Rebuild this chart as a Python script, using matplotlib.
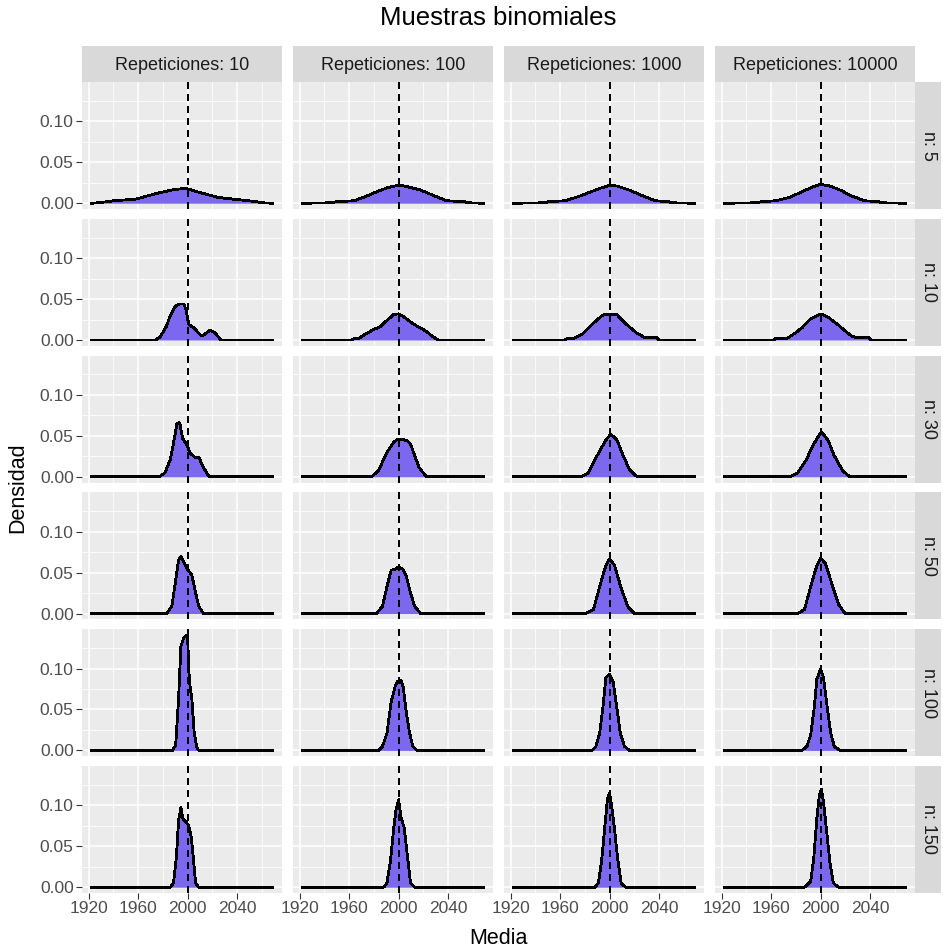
import matplotlib
matplotlib.use("Agg")
import matplotlib.pyplot as plt

plt.rcParams["font.family"] = ["Liberation Sans", "DejaVu Sans"]
plt.rcParams["lines.scale_dashes"] = False

# Facet levels
reps_levels = [10, 100, 1000, 10000]
n_levels = [5, 10, 30, 50, 100, 150]
x_ticks = [1920, 1960, 2000, 2040]
x_minor = [1940, 1980, 2020, 2060]
y_ticks = [0.00, 0.05, 0.10]
y_minor = [0.025, 0.075, 0.125]
y_tick_labels = ["0.00", "0.05", "0.10"]
true_mean = 2000

# Density curves of the sample means, one pair of lists per facet
n5_r10_x = [1922, 1928, 1940, 1958, 1975, 1990, 1999, 2010, 2025, 2043, 2055, 2060, 2069]
n5_r10_y = [0, 0.0005, 0.003, 0.005, 0.012, 0.017, 0.018, 0.013, 0.007, 0.004, 0.002, 0.0005, 0]
n5_r100_x = [1922, 1946, 1950, 1964, 1973, 1984, 1991, 2000, 2005, 2018, 2029, 2039, 2053, 2056, 2069]
n5_r100_y = [0, 0.0005, 0.002, 0.003, 0.008, 0.015, 0.019, 0.022, 0.021, 0.016, 0.009, 0.003, 0.002, 0.0005, 0]
n5_r1000_x = [1922, 1948, 1951, 1964, 1974.6, 1985, 1992, 2000, 2006, 2016, 2027, 2037, 2048, 2050, 2069]
n5_r1000_y = [0, 0.0005, 0.002, 0.003, 0.008, 0.014, 0.018, 0.022, 0.021, 0.016, 0.009, 0.003, 0.002, 0.0005, 0]
n5_r10000_x = [1922, 1949, 1952, 1964, 1974.6, 1985, 1993.7, 2000, 2007.6, 2016, 2025, 2035.5, 2047, 2049, 2069]
n5_r10000_y = [0, 0.0005, 0.002, 0.003, 0.007, 0.014, 0.020, 0.023, 0.021, 0.016, 0.009, 0.003, 0.002, 0.0005, 0]

n10_r10_x = [1922, 1974, 1978, 1983, 1986, 1990, 1993, 1997, 1998.5, 2001, 2005, 2011, 2013, 2018, 2022, 2027, 2069]
n10_r10_y = [0, 0, 0.004, 0.017, 0.030, 0.041, 0.044, 0.044, 0.038, 0.019, 0.015, 0.005, 0.006, 0.012, 0.009, 0, 0]
n10_r100_x = [1922, 1962, 1964.5, 1968, 1973, 1980, 1985, 1990.6, 1996, 2000, 2004.5, 2011.5, 2022, 2027, 2032, 2069]
n10_r100_y = [0, 0, 0.002, 0.002, 0.007, 0.013, 0.016, 0.024, 0.031, 0.032, 0.028, 0.020, 0.011, 0.005, 0, 0]
n10_r1000_x = [1922, 1964, 1966, 1971, 1978, 1985, 1994, 1996, 2006, 2013, 2021.5, 2028.5, 2038, 2040, 2069]
n10_r1000_y = [0, 0, 0.002, 0.002, 0.007, 0.018, 0.030, 0.031, 0.031, 0.020, 0.009, 0.003, 0.003, 0, 0]
n10_r10000_x = [1922, 1962, 1964, 1973, 1980, 1985, 1992, 2000, 2006, 2013, 2020, 2025, 2029, 2039, 2041, 2069]
n10_r10000_y = [0, 0, 0.002, 0.002, 0.009, 0.015, 0.026, 0.032, 0.028, 0.020, 0.011, 0.005, 0.003, 0.003, 0, 0]

n30_r10_x = [1922, 1977, 1981.8, 1986, 1988.6, 1991.4, 1993, 1994, 1996, 1999.5, 2002, 2006, 2009, 2013, 2017, 2018, 2069]
n30_r10_y = [0, 0, 0.005, 0.021, 0.041, 0.065, 0.066, 0.063, 0.047, 0.039, 0.029, 0.024, 0.024, 0.011, 0.001, 0, 0]
n30_r100_x = [1922, 1978, 1983.6, 1990.6, 1996, 1999, 2003, 2007, 2009.7, 2013, 2016.7, 2022, 2023, 2069]
n30_r100_y = [0, 0, 0.007, 0.030, 0.042, 0.046, 0.046, 0.044, 0.040, 0.026, 0.011, 0.001, 0, 0]
n30_r1000_x = [1922, 1977, 1983, 1990, 1997, 2001, 2006, 2011, 2016, 2021.5, 2023, 2069]
n30_r1000_y = [0, 0, 0.005, 0.026, 0.045, 0.052, 0.045, 0.026, 0.009, 0.001, 0, 0]
n30_r10000_x = [1922, 1975, 1981.5, 1988.5, 1993.7, 2000.5, 2006, 2011, 2018, 2023, 2024, 2069]
n30_r10000_y = [0, 0, 0.005, 0.021, 0.038, 0.055, 0.045, 0.026, 0.007, 0.001, 0, 0]

n50_r10_x = [1922, 1983, 1987.3, 1990, 1992.7, 1994.6, 1996.8, 1999.5, 2003.5, 2006, 2009, 2013, 2069]
n50_r10_y = [0, 0, 0.009, 0.037, 0.065, 0.070, 0.064, 0.055, 0.047, 0.029, 0.009, 0, 0]
n50_r100_x = [1922, 1982, 1987, 1990.6, 1994, 1997, 2000, 2003, 2006, 2009.7, 2013, 2018, 2069]
n50_r100_y = [0, 0, 0.009, 0.033, 0.053, 0.054, 0.057, 0.055, 0.047, 0.025, 0.009, 0, 0]
n50_r1000_x = [1922, 1980, 1987, 1992, 1997, 2000, 2004, 2009, 2014.6, 2020, 2069]
n50_r1000_y = [0, 0, 0.005, 0.033, 0.059, 0.067, 0.059, 0.033, 0.009, 0, 0]
n50_r10000_x = [1922, 1981.5, 1987, 1992, 1997, 2000, 2004, 2009.4, 2014.6, 2020, 2069]
n50_r10000_y = [0, 0, 0.005, 0.033, 0.059, 0.068, 0.061, 0.035, 0.011, 0, 0]

n100_r10_x = [1922, 1988, 1990.4, 1992.7, 1994.6, 1997, 2000, 2001, 2002, 2003.5, 2005.4, 2007.6, 2009, 2069]
n100_r10_y = [0, 0, 0.007, 0.062, 0.127, 0.138, 0.141, 0.097, 0.079, 0.062, 0.021, 0.003, 0, 0]
n100_r100_x = [1922, 1984, 1987, 1990.6, 1994, 1997, 1999, 2002, 2003.8, 2006, 2008.7, 2011.5, 2015, 2069]
n100_r100_y = [0, 0, 0.005, 0.021, 0.059, 0.077, 0.084, 0.085, 0.077, 0.049, 0.023, 0.005, 0, 0]
n100_r1000_x = [1922, 1986, 1989, 1992, 1994.8, 1997, 2000, 2003, 2006, 2008.7, 2012, 2016, 2069]
n100_r1000_y = [0, 0, 0.005, 0.021, 0.055, 0.089, 0.093, 0.083, 0.051, 0.021, 0.005, 0, 0]
n100_r10000_x = [1922, 1985, 1989, 1992, 1994.8, 1997, 2000, 2002.4, 2005, 2008, 2011, 2015.6, 2069]
n100_r10000_y = [0, 0, 0.005, 0.019, 0.051, 0.087, 0.099, 0.089, 0.057, 0.023, 0.005, 0, 0]

n150_r10_x = [1922, 1986, 1988.6, 1991, 1992.7, 1994.6, 1996.3, 1998, 2001, 2003, 2004.6, 2006.5, 2009, 2069]
n150_r10_y = [0, 0, 0.005, 0.037, 0.081, 0.097, 0.083, 0.081, 0.075, 0.061, 0.037, 0.005, 0, 0]
n150_r100_x = [1922, 1988, 1990.6, 1993.4, 1996, 1998, 2000, 2002, 2004.5, 2007, 2009.7, 2013, 2069]
n150_r100_y = [0, 0, 0.005, 0.032, 0.071, 0.095, 0.107, 0.085, 0.073, 0.040, 0.005, 0, 0]
n150_r1000_x = [1922, 1988, 1991, 1993.7, 1996.2, 1998.3, 2000, 2002, 2004, 2006.6, 2009.4, 2013, 2069]
n150_r1000_y = [0, 0, 0.005, 0.034, 0.075, 0.108, 0.115, 0.096, 0.071, 0.034, 0.005, 0, 0]
n150_r10000_x = [1922, 1987, 1992, 1994.4, 1997, 1999, 2000.7, 2002.4, 2005, 2007.6, 2010.4, 2014.6, 2069]
n150_r10000_y = [0, 0, 0.007, 0.034, 0.084, 0.112, 0.120, 0.104, 0.067, 0.030, 0.005, 0, 0]

curves = {
    (5, 10): (n5_r10_x, n5_r10_y), (5, 100): (n5_r100_x, n5_r100_y),
    (5, 1000): (n5_r1000_x, n5_r1000_y), (5, 10000): (n5_r10000_x, n5_r10000_y),
    (10, 10): (n10_r10_x, n10_r10_y), (10, 100): (n10_r100_x, n10_r100_y),
    (10, 1000): (n10_r1000_x, n10_r1000_y), (10, 10000): (n10_r10000_x, n10_r10000_y),
    (30, 10): (n30_r10_x, n30_r10_y), (30, 100): (n30_r100_x, n30_r100_y),
    (30, 1000): (n30_r1000_x, n30_r1000_y), (30, 10000): (n30_r10000_x, n30_r10000_y),
    (50, 10): (n50_r10_x, n50_r10_y), (50, 100): (n50_r100_x, n50_r100_y),
    (50, 1000): (n50_r1000_x, n50_r1000_y), (50, 10000): (n50_r10000_x, n50_r10000_y),
    (100, 10): (n100_r10_x, n100_r10_y), (100, 100): (n100_r100_x, n100_r100_y),
    (100, 1000): (n100_r1000_x, n100_r1000_y), (100, 10000): (n100_r10000_x, n100_r10000_y),
    (150, 10): (n150_r10_x, n150_r10_y), (150, 100): (n150_r100_x, n150_r100_y),
    (150, 1000): (n150_r1000_x, n150_r1000_y), (150, 10000): (n150_r10000_x, n150_r10000_y),
}

# Shared scales with 5% padding, as in a faceted grid with fixed scales
all_x = [v for xs, _ in curves.values() for v in xs]
all_y = [v for _, ys in curves.values() for v in ys]
x_lo, x_hi = min(all_x), max(all_x)
y_hi = max(all_y)
x_pad = 0.05 * (x_hi - x_lo)
xlim = (x_lo - x_pad, x_hi + x_pad)
ylim = (-0.05 * y_hi, 1.05 * y_hi)

# Figure geometry in pixels
W, H = 943, 950
fig = plt.figure(figsize=(W / 100, H / 100), dpi=100)
fig.patch.set_facecolor("white")

left0, top0 = 82, 82
pw, ph = 200, 127
gap_x, gap_y = 11, 9.8
strip_h, strip_w = 36, 26

PANEL_BG = "#EBEBEB"
STRIP_BG = "#D9D9D9"
FILL = "#7B68EE"
TICK_TXT = "#4D4D4D"
STRIP_TXT = "#1A1A1A"
FS_TICK = 12.5
FS_STRIP = 13


def px_rect(x, y, w, h):
    return [x / W, 1 - (y + h) / H, w / W, h / H]


for r, n in enumerate(n_levels):
    for c, reps in enumerate(reps_levels):
        px = left0 + c * (pw + gap_x)
        py = top0 + r * (ph + gap_y)
        ax = fig.add_axes(px_rect(px, py, pw, ph))
        ax.set_facecolor(PANEL_BG)
        ax.set_xlim(*xlim)
        ax.set_ylim(*ylim)
        for s in ax.spines.values():
            s.set_visible(False)
        ax.set_xticks(x_ticks)
        ax.set_xticks(x_minor, minor=True)
        ax.set_yticks(y_ticks)
        ax.set_yticks(y_minor, minor=True)
        ax.grid(True, which="major", color="white", linewidth=1.1)
        ax.grid(True, which="minor", color="white", linewidth=0.55)
        ax.set_axisbelow(True)
        ax.tick_params(which="minor", length=0)
        ax.tick_params(which="major", length=4, width=0.8, color="#333333",
                       labelcolor=TICK_TXT, labelsize=FS_TICK, pad=2)
        if c == 0:
            ax.set_yticklabels(y_tick_labels)
        else:
            ax.tick_params(axis="y", which="major", left=False, labelleft=False)
        if r == len(n_levels) - 1:
            ax.set_xticklabels([str(t) for t in x_ticks])
        else:
            ax.tick_params(axis="x", which="major", bottom=False, labelbottom=False)

        xs, ys = curves[(n, reps)]
        ax.fill_between(xs, ys, 0, color=FILL, linewidth=0, antialiased=False, zorder=2)
        ax.plot(xs, ys, color="black", linewidth=1.3, antialiased=False, zorder=3)
        ax.axvline(true_mean, color="black", linewidth=1.2, dashes=(5, 3.6),
                   antialiased=False, zorder=4)

        # Column strip
        if r == 0:
            sx = fig.add_axes(px_rect(px, py - strip_h, pw, strip_h))
            sx.set_facecolor(STRIP_BG)
            sx.set_xticks([]); sx.set_yticks([])
            for s in sx.spines.values():
                s.set_visible(False)
            sx.text(0.5, 0.45, f"Repeticiones: {reps}", ha="center", va="center",
                    fontsize=FS_STRIP, color=STRIP_TXT, transform=sx.transAxes)
        # Row strip
        if c == len(reps_levels) - 1:
            sy = fig.add_axes(px_rect(px + pw, py, strip_w, ph))
            sy.set_facecolor(STRIP_BG)
            sy.set_xticks([]); sy.set_yticks([])
            for s in sy.spines.values():
                s.set_visible(False)
            sy.text(0.5, 0.5, f"n: {n}", ha="center", va="center", rotation=-90,
                    fontsize=FS_STRIP, color=STRIP_TXT, transform=sy.transAxes)

grid_left = left0
grid_right = left0 + 4 * pw + 3 * gap_x
grid_bottom = top0 + 6 * ph + 5 * gap_y
fig.text(((grid_left + grid_right) / 2) / W, 1 - 18 / H, "Muestras binomiales",
         ha="center", va="center", fontsize=18.5, color="black")
fig.text(((grid_left + grid_right) / 2) / W, 1 - 939 / H, "Media",
         ha="center", va="center", fontsize=15.5, color="black")
fig.text(18 / W, 1 - ((top0 + grid_bottom) / 2) / H, "Densidad",
         ha="center", va="center", rotation=90, fontsize=15.5, color="black")

fig.savefig("out.png", dpi=100, facecolor="white")
